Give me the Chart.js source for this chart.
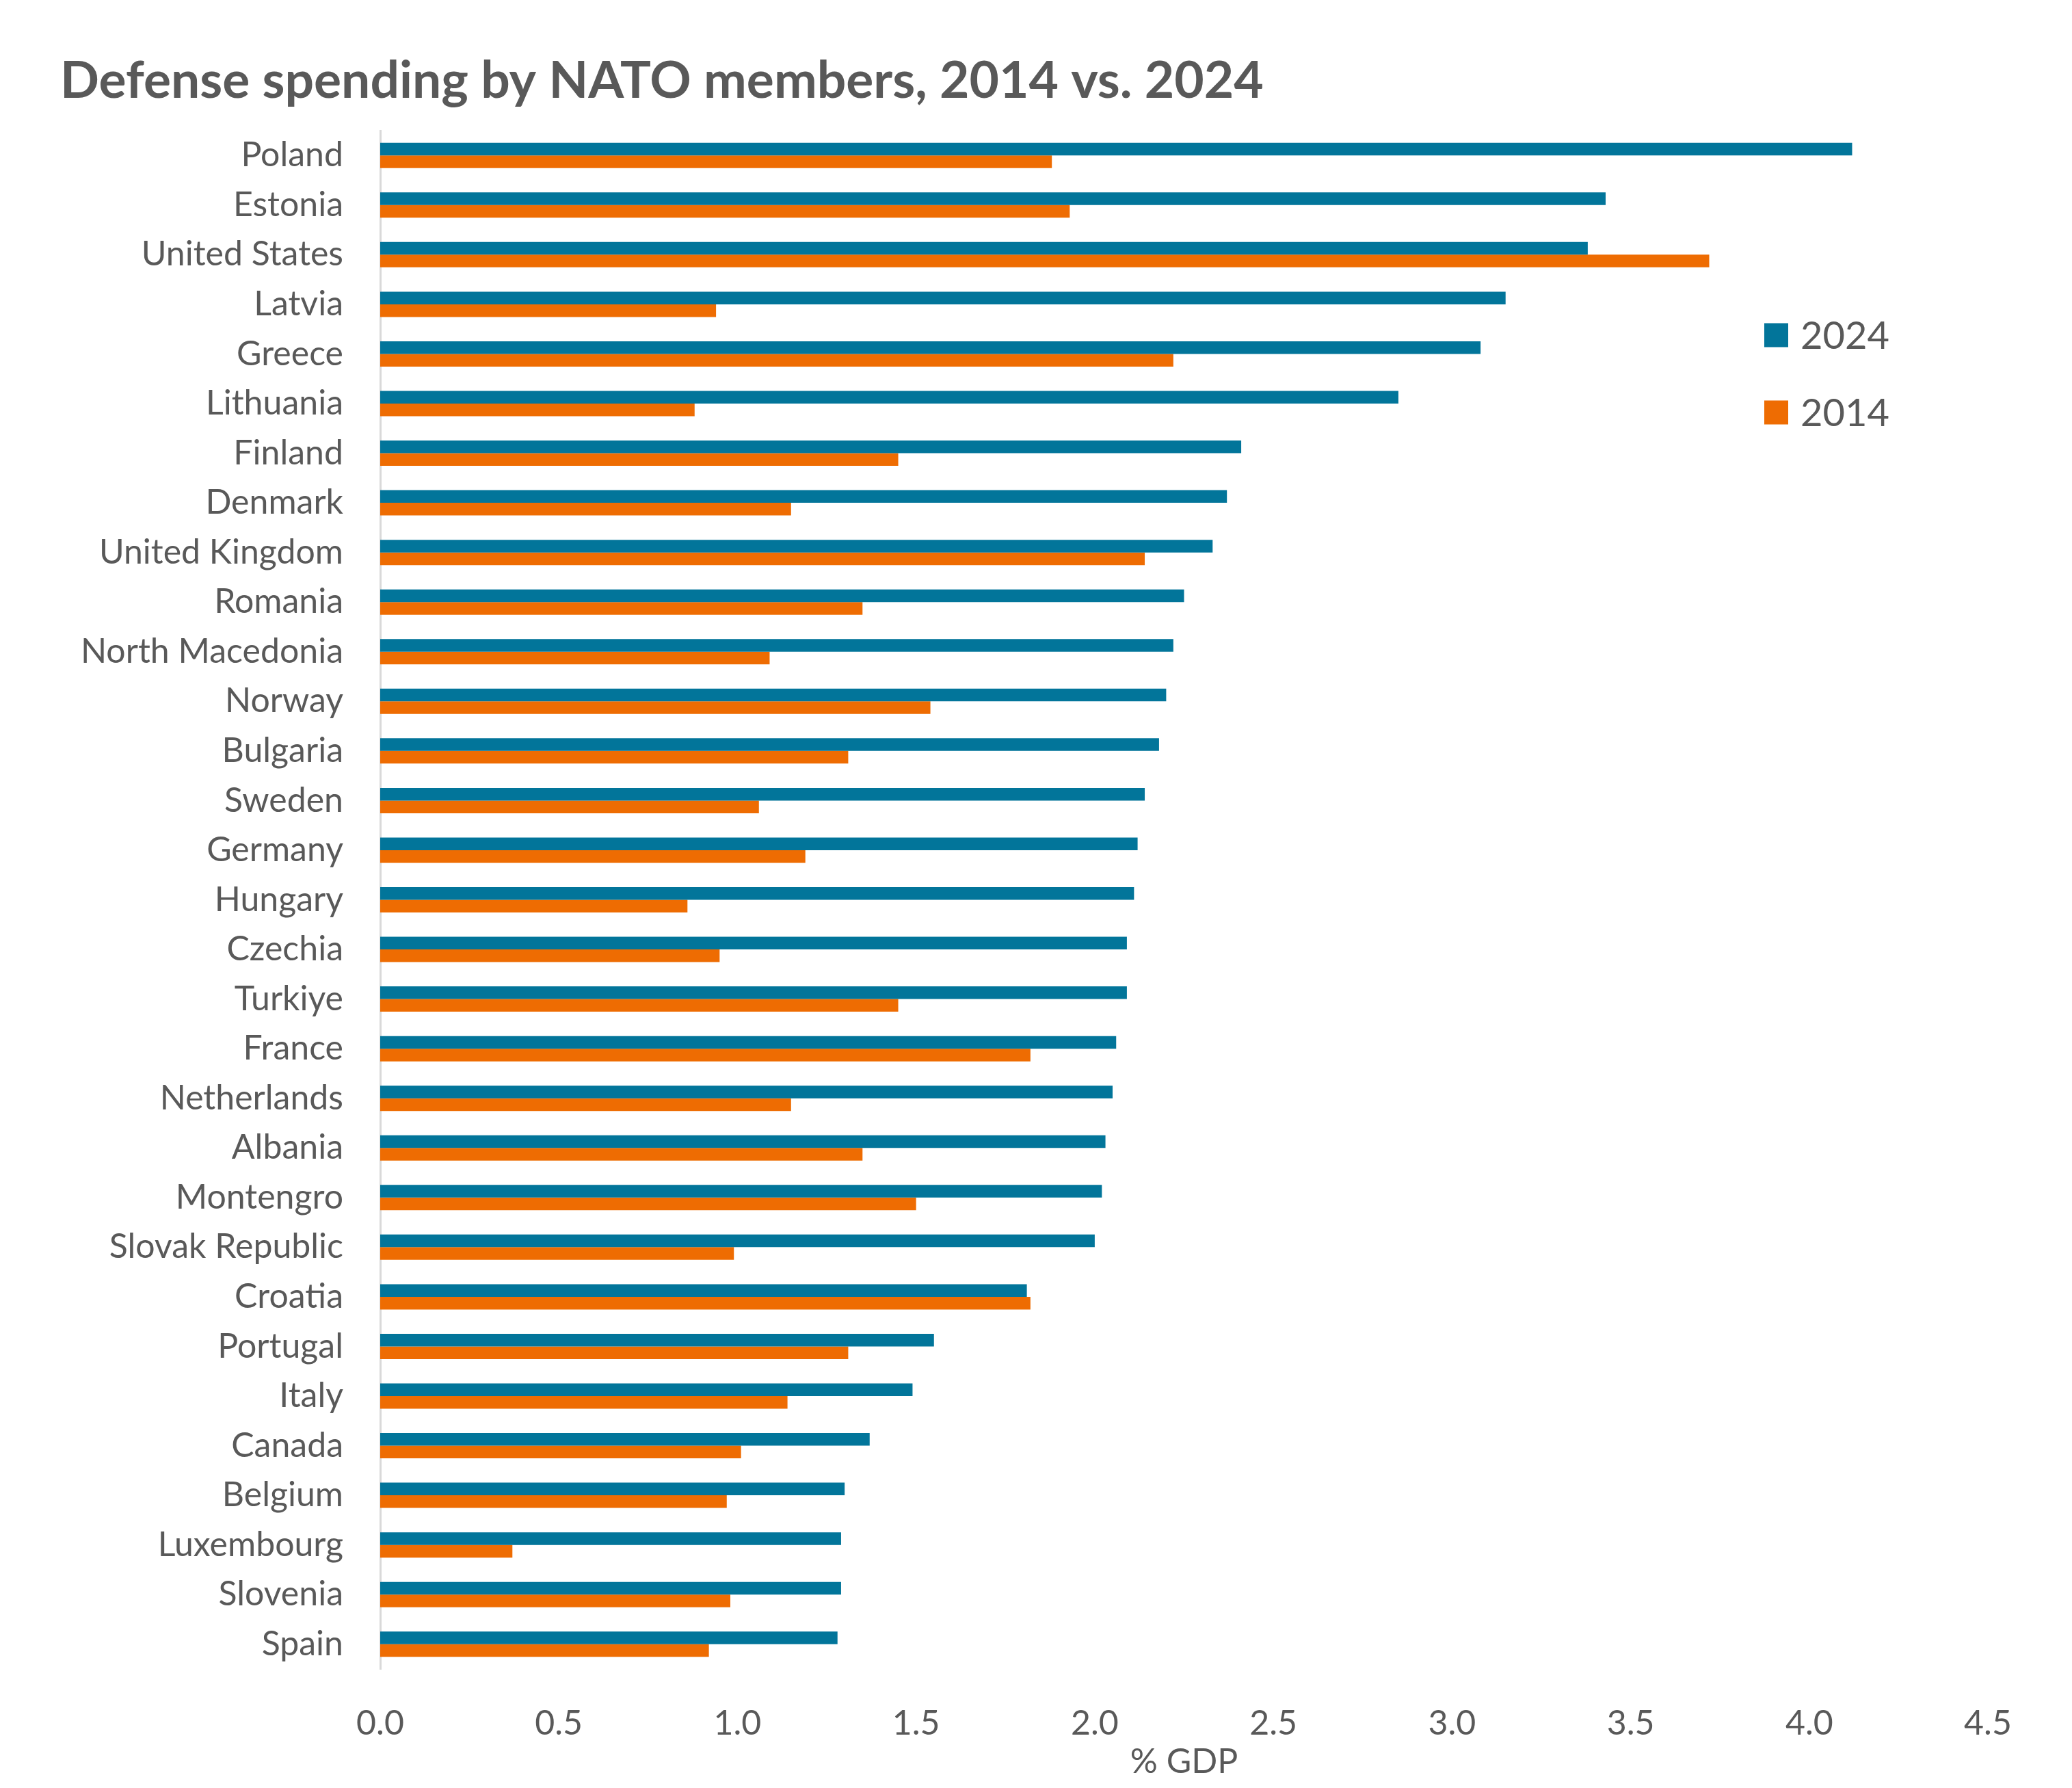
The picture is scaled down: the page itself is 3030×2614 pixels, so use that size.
<!DOCTYPE html>
<html>
<head>
<meta charset="utf-8">
<title>Defense spending by NATO members</title>
<script src="https://cdn.jsdelivr.net/npm/chart.js@4.4.1/dist/chart.umd.min.js"></script>
<style>
  html, body { margin: 0; padding: 0; background: #ffffff; }
  canvas { display: block; }
</style>
</head>
<body>
<canvas id="myChart" width="3030" height="2614"></canvas>
<script>
const countries = [
  'Poland', 'Estonia', 'United States', 'Latvia', 'Greece', 'Lithuania',
  'Finland', 'Denmark', 'United Kingdom', 'Romania', 'North Macedonia',
  'Norway', 'Bulgaria', 'Sweden', 'Germany', 'Hungary', 'Czechia',
  'Turkiye', 'France', 'Netherlands', 'Albania', 'Montengro',
  'Slovak Republic', 'Croatia', 'Portugal', 'Italy', 'Canada', 'Belgium',
  'Luxembourg', 'Slovenia', 'Spain'
];

const spend2024 = [
  4.12, 3.43, 3.38, 3.15, 3.08, 2.85,
  2.41, 2.37, 2.33, 2.25, 2.22,
  2.20, 2.18, 2.14, 2.12, 2.11, 2.09,
  2.09, 2.06, 2.05, 2.03, 2.02,
  2.00, 1.81, 1.55, 1.49, 1.37, 1.30,
  1.29, 1.29, 1.28
];

const spend2014 = [
  1.88, 1.93, 3.72, 0.94, 2.22, 0.88,
  1.45, 1.15, 2.14, 1.35, 1.09,
  1.54, 1.31, 1.06, 1.19, 0.86, 0.95,
  1.45, 1.82, 1.15, 1.35, 1.50,
  0.99, 1.82, 1.31, 1.14, 1.01, 0.97,
  0.37, 0.98, 0.92
];

const seriesNames = ['2024', '2014'];
const seriesColors = ['#02759A', '#EE6C02'];
const xTicks = [0, 0.5, 1, 1.5, 2, 2.5, 3, 3.5, 4, 4.5];

const textColor = '#595959';
const fontFamily = 'Lato, "Open Sans", sans-serif';

// legend sits inside the plot, to the right of the bars
const sideLegend = {
  id: 'sideLegend',
  afterDraw(chart) {
    const ctx = chart.ctx;
    const area = chart.chartArea;
    const box = 35;
    const x = area.right - 327;
    let y = area.top + 299;
    ctx.save();
    ctx.font = '56px ' + fontFamily;
    ctx.textBaseline = 'middle';
    ctx.textAlign = 'left';
    chart.data.datasets.forEach(ds => {
      ctx.fillStyle = ds.backgroundColor;
      ctx.fillRect(x, y - box / 2, box, box);
      ctx.fillStyle = textColor;
      ctx.fillText(ds.label, x + 53, y + 2);
      y += 113;
    });
    ctx.restore();
  }
};

const data = {
  labels: countries,
  datasets: [
    { label: seriesNames[0], data: spend2024, backgroundColor: seriesColors[0] },
    { label: seriesNames[1], data: spend2014, backgroundColor: seriesColors[1] }
  ]
};

const options = {
  indexAxis: 'y',
  responsive: false,
  animation: false,
  devicePixelRatio: 1,
  layout: { padding: { left: 88, right: 123, top: 0, bottom: 0 } },
  datasets: {
    bar: { categoryPercentage: 0.51, barPercentage: 1.0, borderWidth: 0 }
  },
  plugins: {
    legend: { display: false },
    tooltip: { enabled: false },
    title: {
      display: true,
      text: 'Defense spending by NATO members, 2014 vs. 2024',
      align: 'start',
      color: textColor,
      font: { family: fontFamily, size: 75, weight: 'bold', lineHeight: 1.2 },
      padding: { top: 74, bottom: 27 }
    }
  },
  scales: {
    x: {
      min: 0,
      max: 4.5,
      afterBuildTicks(scale) {
        scale.ticks = xTicks.map(v => ({ value: v }));
      },
      afterFit(scale) { scale.height = 174; },
      ticks: {
        color: textColor,
        font: { family: fontFamily, size: 50, lineHeight: 1.2 },
        padding: 42,
        maxRotation: 0,
        callback: v => Number(v).toFixed(1)
      },
      grid: { display: false },
      border: { display: false },
      title: {
        display: true,
        text: '% GDP',
        color: textColor,
        font: { family: fontFamily, size: 50, lineHeight: 1.2 },
        padding: { top: 0, bottom: 8 }
      }
    },
    y: {
      afterFit(scale) { scale.width = 468; },
      ticks: {
        color: textColor,
        font: { family: fontFamily, size: 50 },
        padding: 54,
        autoSkip: false
      },
      grid: { display: true, drawOnChartArea: false, drawTicks: false },
      border: { display: true, color: '#D9D9D9', width: 3 }
    }
  }
};

const config = {
  type: 'bar',
  data: data,
  options: options,
  plugins: [sideLegend]
};

document.fonts.load('50px Lato').then(() => document.fonts.load('bold 75px Lato')).then(() => {
  const myChart = new Chart(document.getElementById('myChart'), config);
});
</script>
</body>
</html>
